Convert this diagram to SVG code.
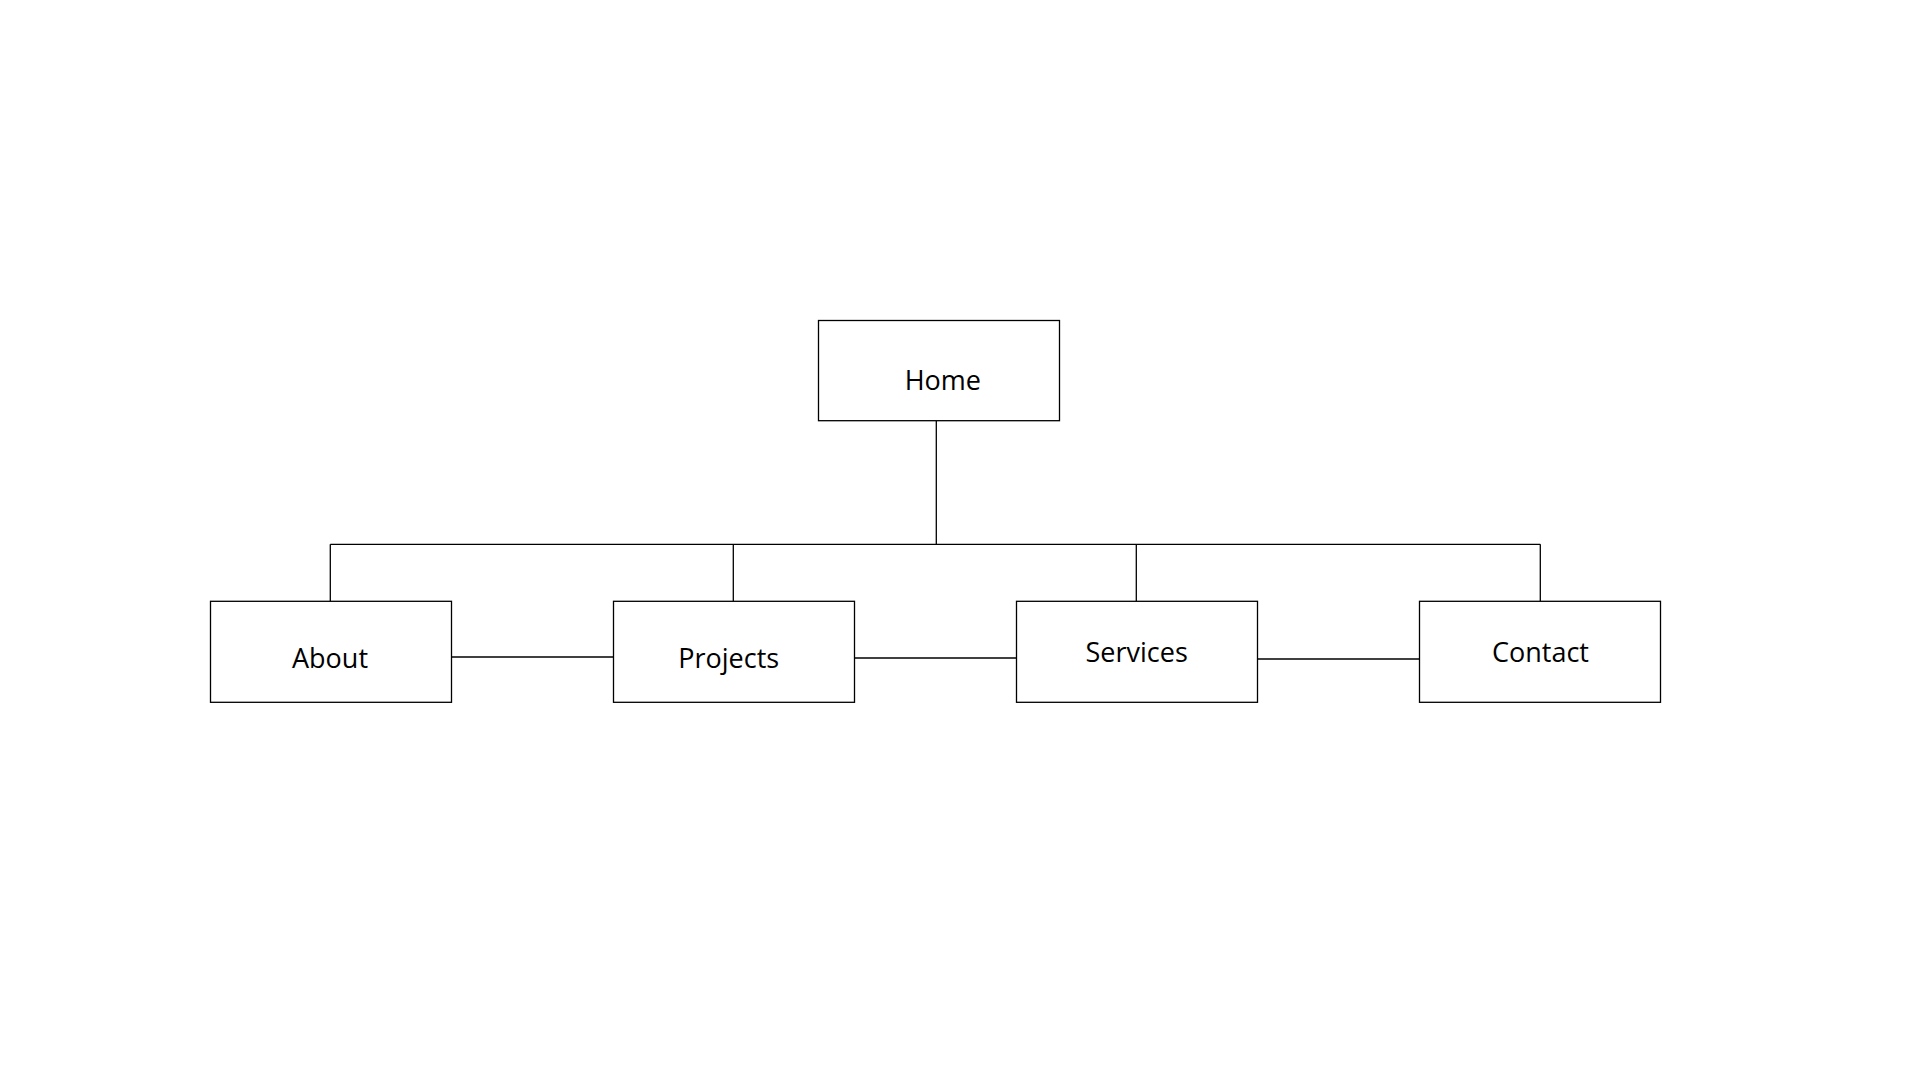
<svg xmlns="http://www.w3.org/2000/svg" width="1920" height="1080" viewBox="0 0 1920 1080">
<style>
.box{fill:#fff;stroke:#000;stroke-width:1.3}
.ln{fill:none;stroke:#000;stroke-width:1.3}
.lbl{font-family:"Open Sans","Noto Sans","DejaVu Sans",sans-serif;font-size:27px;fill:#000;text-anchor:middle}
</style>
<rect width="1920" height="1080" fill="#fff"/>
<g id="connectors">
<line class="ln" x1="936.3" y1="420.7" x2="936.3" y2="544.3"/>
<line class="ln" x1="330.3" y1="544.3" x2="1540.3" y2="544.3"/>
<line class="ln" x1="330.3" y1="544.3" x2="330.3" y2="601.3"/>
<line class="ln" x1="733.3" y1="544.3" x2="733.3" y2="601.3"/>
<line class="ln" x1="1136.3" y1="544.3" x2="1136.3" y2="601.3"/>
<line class="ln" x1="1540.3" y1="544.3" x2="1540.3" y2="601.3"/>
<line class="ln" x1="451.5" y1="657" x2="613.5" y2="657"/>
<line class="ln" x1="854.5" y1="658" x2="1016.5" y2="658"/>
<line class="ln" x1="1257.5" y1="659" x2="1419.5" y2="659"/>
</g>
<g id="home">
<rect class="box" x="818.5" y="320.5" width="241" height="100.2"/>
<text class="lbl" x="942.8" y="389.5">Home</text>
</g>
<g id="about">
<rect class="box" x="210.5" y="601.3" width="241" height="101"/>
<text class="lbl" x="330" y="668">About</text>
</g>
<g id="projects">
<rect class="box" x="613.5" y="601.3" width="241" height="101"/>
<text class="lbl" x="728.7" y="668">Projects</text>
</g>
<g id="services">
<rect class="box" x="1016.5" y="601.3" width="241" height="101"/>
<text class="lbl" x="1136.7" y="662">Services</text>
</g>
<g id="contact">
<rect class="box" x="1419.5" y="601.3" width="241" height="101"/>
<text class="lbl" x="1540.5" y="662">Contact</text>
</g>
</svg>
